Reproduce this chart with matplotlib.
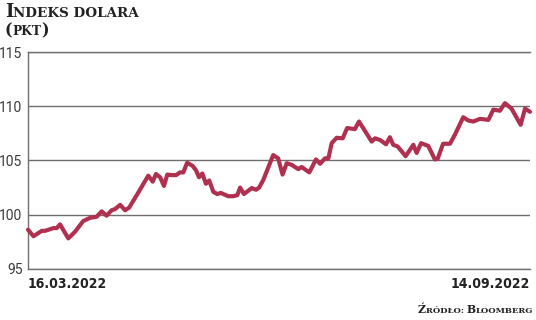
import matplotlib

matplotlib.use("Agg")

import matplotlib.pyplot as plt

# Dollar index, days counted from 16.03.2022 (day 0) to 14.09.2022 (day 182)
days = [
    0, 2, 5, 6.2, 9.2, 10.4, 11.6, 14.6, 17, 20, 22.5, 24.9, 26.7, 28.5,
    30.3, 31.5, 33.4, 35.2, 36.7, 40.6, 43.6, 45.2, 46.4, 47.9, 49.3, 50.5,
    52.1, 53.7, 55.1, 56.3, 57.7, 59.7, 60.9, 62, 63.2, 64.5, 65.7, 67.2,
    68.6, 69.9, 72.6, 74.4, 75.9, 76.9, 78.3, 81.1, 82.7, 83.8, 85.3, 88.9,
    90.7, 92.3, 93.8, 95.6, 98, 99.2, 102, 104.4, 105.9, 107.7, 108.9, 110.1,
    111.9, 114.1, 115.7, 118.5, 120, 121.5, 124.6, 125.8, 127.6, 129.8,
    131.2, 132.4, 134, 136.9, 139.7, 140.9, 142.5, 145.1, 147.5, 148.5,
    150.5, 153, 154.8, 157.8, 159.6, 161.4, 163.9, 166.9, 168.7, 171.1,
    172.9, 175.3, 178.6, 180.2, 182,
]
index_pts = [
    98.6, 98.0, 98.5, 98.5, 98.75, 98.75, 99.1, 97.8, 98.4, 99.4, 99.7, 99.8,
    100.3, 99.9, 100.4, 100.5, 100.9, 100.4, 100.65, 102.3, 103.6, 103.05,
    103.75, 103.45, 102.65, 103.7, 103.65, 103.65, 103.9, 103.9, 104.8,
    104.5, 104.1, 103.45, 103.8, 102.85, 103.15, 102.1, 101.9, 102.0, 101.7,
    101.7, 101.8, 102.5, 101.9, 102.45, 102.3, 102.5, 103.2, 105.5, 105.2,
    103.7, 104.75, 104.6, 104.2, 104.4, 103.9, 105.1, 104.7, 105.2, 105.2,
    106.6, 107.1, 107.05, 108.0, 107.9, 108.6, 108.0, 106.75, 107.05, 106.9,
    106.5, 107.15, 106.45, 106.3, 105.4, 106.45, 105.7, 106.6, 106.35, 105.1,
    105.15, 106.55, 106.55, 107.4, 109.0, 108.7, 108.6, 108.85, 108.75,
    109.7, 109.6, 110.3, 109.8, 108.3, 109.8, 109.5,
]
y_ticks = [95, 100, 105, 110, 115]
x_ticks = [0, 182]
x_labels = ["16.03.2022", "14.09.2022"]

TITLE = "Indeks dolara"
UNIT = "(pkt)"
SOURCE = "Źródło: Bloomberg"

W, H = 536, 320
LINE_COLOR = "#b0304f"
GRID_COLOR = "#6f6f6f"
TEXT_COLOR = "#222222"


def small_caps(fig, x, y, text, big, small, ha="left"):
    """Fake small caps: capitals at `big` size, lowercase as capitals at `small`."""
    renderer = fig.canvas.get_renderer()
    runs = []
    for ch in text:
        size = small if (ch.islower() or ch in " :") else big
        if runs and runs[-1][1] == size:
            runs[-1][0] += ch.upper()
        else:
            runs.append([ch.upper(), size])
    texts = []
    for chunk, size in runs:
        t = fig.text(0, 0, chunk, fontsize=size, fontweight="bold",
                     family="DejaVu Serif", color=TEXT_COLOR, va="baseline")
        texts.append(t)
    widths = [t.get_window_extent(renderer).width for t in texts]
    total = sum(widths)
    cur = x - total if ha == "right" else x
    for t, w in zip(texts, widths):
        t.set_position((cur / W, 1 - y / H))
        cur += w


fig = plt.figure(figsize=(W / 100, H / 100), dpi=100)
ax = fig.add_axes([28 / W, 1 - 268.7 / H, (530 - 28) / W, (268.7 - 52.3) / H])

ax.plot(days, index_pts, color=LINE_COLOR, linewidth=3.0,
        solid_joinstyle="round", solid_capstyle="round", clip_on=False, zorder=3)

ax.set_xlim(0, 182)
ax.set_ylim(95, 115)
ax.set_yticks(y_ticks)
ax.set_yticklabels([str(v) for v in y_ticks], family="Roboto",
                   fontsize=10, color="#3a3a3a")
ax.set_xticks(x_ticks)
ax.set_xticklabels(x_labels, family="DejaVu Sans", fontstretch="condensed",
                   fontweight="bold", fontsize=10, color=TEXT_COLOR)
labels = ax.get_xticklabels()
labels[0].set_ha("left")
labels[-1].set_ha("right")
ax.tick_params(axis="y", length=0, pad=4)
ax.tick_params(axis="x", length=0, pad=6)
ax.grid(axis="y", color=GRID_COLOR, linewidth=1.0)
for side in ("top", "bottom", "left"):
    ax.spines[side].set_color(GRID_COLOR)
    ax.spines[side].set_linewidth(1.0)
ax.spines["right"].set_visible(False)

small_caps(fig, 5, 17.3, TITLE, 12.7, 9.7)
small_caps(fig, 5, 35, UNIT, 11.5, 8.8)
small_caps(fig, 533, 313, SOURCE, 7.8, 6.0, ha="right")

fig.savefig("out.png", dpi=100)
